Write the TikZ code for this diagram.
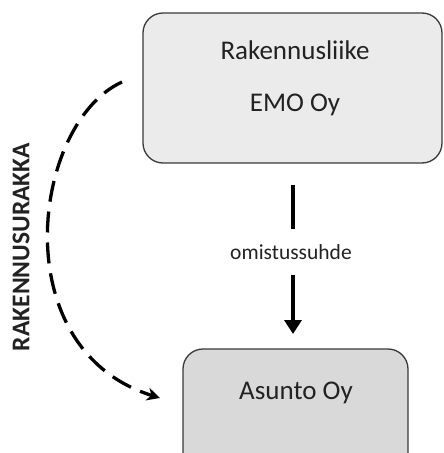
\documentclass[tikz,border=0pt]{standalone}
\usepackage{fontspec}
\setmainfont{Carlito}
\usetikzlibrary{arrows.meta}
\definecolor{boxline}{HTML}{3A3A3A}
\definecolor{topfill}{HTML}{EBEBEB}
\definecolor{lowfill}{HTML}{D9D9D9}
\definecolor{ink}{HTML}{222222}
\begin{document}
\begin{tikzpicture}[x=1pt,y=-1pt,
  orgbox/.style={draw=boxline,line width=1.3pt,rounded corners=20pt,inner sep=0pt},
  boxtext/.style={text=ink,font=\fontsize{27}{31}\selectfont,inner sep=0pt},
  flowline/.style={line width=3.8pt,draw=black},
  contract/.style={line width=3.3pt,dash pattern=on 21pt off 10pt,
    -{Stealth[length=13pt,width=13pt,inset=4pt]}}]
  \useasboundingbox (0,0) rectangle (444,453);
  \fill[white] (0,0) rectangle (444,453);

  % parent company
  \node[orgbox,fill=topfill,minimum width=299pt,minimum height=150pt] (emobox) at (292.5,88) {};
  \node[boxtext] (emo1) at (295,50) {Rakennusliike};
  \node[boxtext] (emo2) at (295,105) {EMO Oy};

  % housing company
  \node[orgbox,fill=lowfill,minimum width=225pt,minimum height=130pt] (asuntobox) at (295.5,414) {};
  \node[boxtext] (asunto) at (296,393) {Asunto Oy};

  % ownership link
  \coordinate (own1) at (293,185);
  \coordinate (own2) at (293,334);
  \node[text=ink,font=\fontsize{21.5}{25}\selectfont,inner sep=0pt,minimum height=45pt] (omist) at (291,252) {omistussuhde};
  \draw[flowline] (own1) -- (own1 |- omist.north);
  \draw[flowline,-{Triangle[length=14pt,width=17pt]}] (own1 |- omist.south) -- (own2);

  % construction contract
  \coordinate (con1) at (122,82);
  \coordinate (con2) at (160,398);
  \draw[contract] (con1) .. controls (32,123) and (3,349) .. (con2);
  \node[rotate=90,text=ink,font=\bfseries\fontsize{25.5}{29}\selectfont,inner sep=0pt] (urakka) at (21,247) {RAKENNUSURAKKA};
\end{tikzpicture}
\end{document}
